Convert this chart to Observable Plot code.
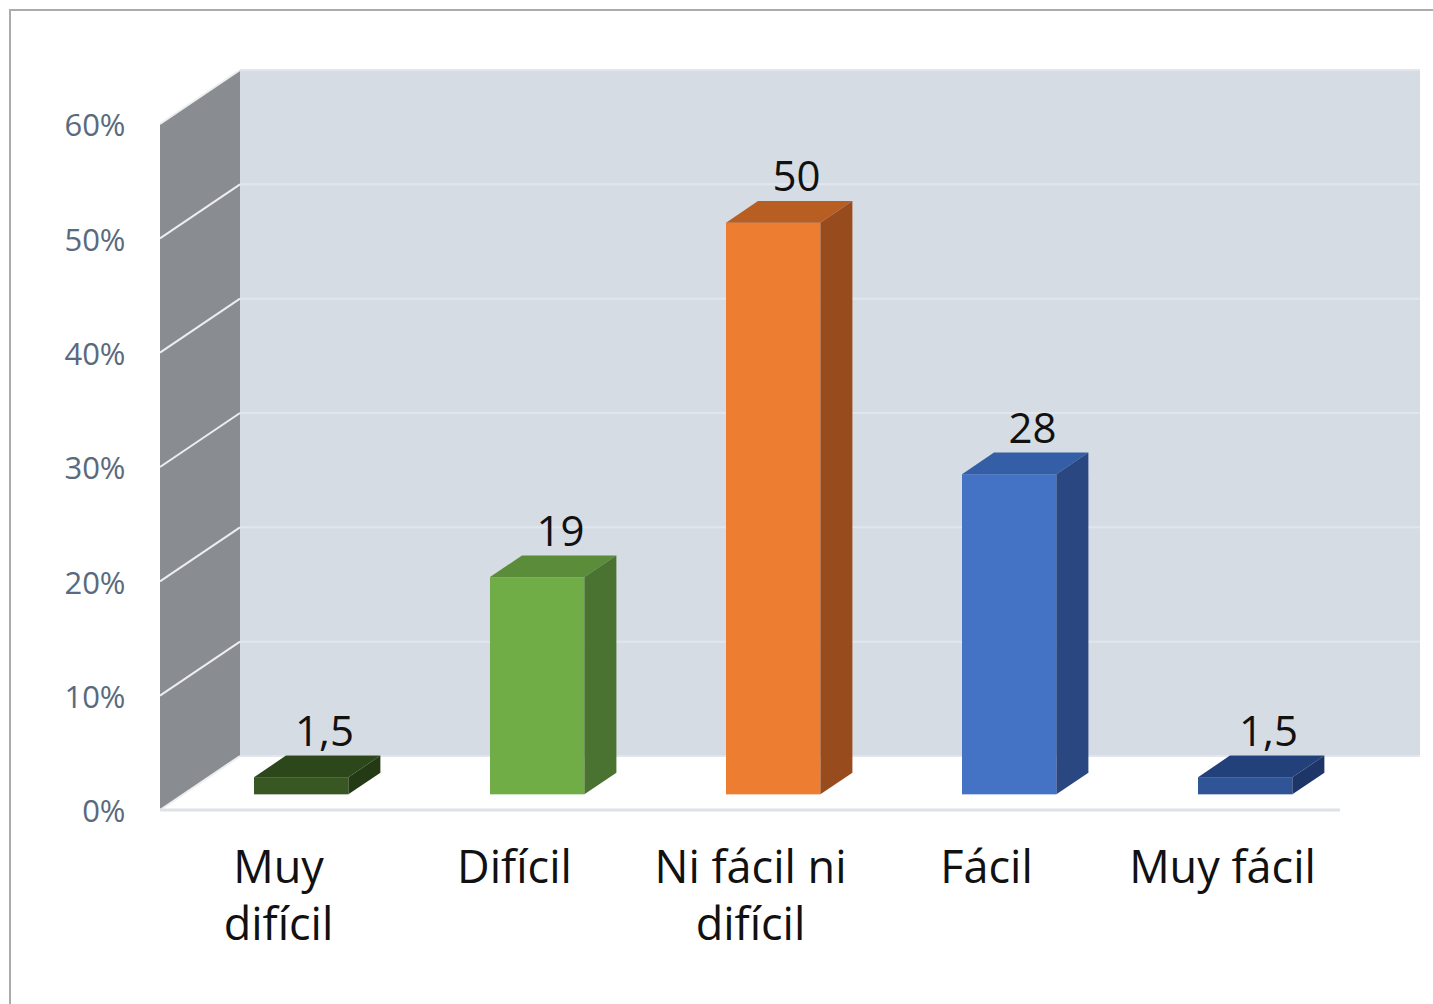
<!DOCTYPE html>
<html><head><meta charset="utf-8">
<script src="https://cdn.jsdelivr.net/npm/d3@7"></script>
<script src="https://cdn.jsdelivr.net/npm/@observablehq/plot@0.6"></script>
<style>
html,body{margin:0;padding:0;background:#fff;overflow:hidden;}
#wrap{position:relative;width:1433px;height:1004px;overflow:hidden;}
#border{position:absolute;left:9px;top:9px;width:1460px;height:1030px;border:2px solid #ababab;box-sizing:border-box;}
#chart{position:absolute;left:0;top:0;}
</style></head><body>
<div id="wrap"><div id="border"></div><div id="chart"></div></div>
<script>
const categories = ["Muy difícil", "Difícil", "Ni fácil ni difícil", "Fácil", "Muy fácil"];
const categoryLabels = ["Muy\ndifícil", "Difícil", "Ni fácil ni\ndifícil", "Fácil", "Muy fácil"];
const values = [1.5, 19, 50, 28, 1.5];
const valueLabels = ["1,5", "19", "50", "28", "1,5"];
const frontColors = ["#385723", "#70ad47", "#ed7d31", "#4472c4", "#2f5597"];
const topColors = ["#2c481b", "#5b8c3a", "#b85e23", "#345ea6", "#22407a"];
const sideColors = ["#233a15", "#4a7230", "#984c1d", "#2a4781", "#1e3667"];
const yTicks = [0, 10, 20, 30, 40, 50, 60];

const data = categories.map((c, i) => ({
  cat: c, label: categoryLabels[i], value: values[i], text: valueLabels[i],
  front: frontColors[i], top: topColors[i], side: sideColors[i]
}));

// oblique depth of the chart box (pixels)
const DX = 80, DY = -54;
const F0 = 0.29, FD = 0.4; // bar front position and bar depth, as fractions of box depth
const BAR_W = 0.4;         // bar width as a fraction of band

function walls(index, scales, values, dims) {
  const {x, y} = scales;
  const X0 = dims.marginLeft, X1 = dims.width - dims.marginRight;
  const y0 = y(0), y60 = y(60);
  const g = d3.create("svg:g");
  g.append("rect").attr("x", X0 + DX).attr("y", y60 + DY)
    .attr("width", X1 - X0).attr("height", y0 - y60).attr("fill", "#d6dce4");
  g.append("path")
    .attr("d", `M${X0},${y0}L${X0},${y60}L${X0 + DX},${y60 + DY}L${X0 + DX},${y0 + DY}Z`)
    .attr("fill", "#898c91");
  for (const t of yTicks) {
    const yt = y(t);
    g.append("line").attr("x1", X0 + DX).attr("x2", X1 + DX)
      .attr("y1", yt + DY).attr("y2", yt + DY)
      .attr("stroke", "#e2e6ec").attr("stroke-width", 2);
    g.append("line").attr("x1", X0).attr("x2", X0 + DX)
      .attr("y1", yt).attr("y2", yt + DY)
      .attr("stroke", "#eceef1").attr("stroke-width", 2);
  }
  g.append("line").attr("x1", X0).attr("x2", X1).attr("y1", y0).attr("y2", y0)
    .attr("stroke", "#dde2e9").attr("stroke-width", 3);
  return g.node();
}

function barSides(index, scales, values, dims) {
  const {x, y} = scales;
  const bw = x.bandwidth();
  const g = d3.create("svg:g");
  const fdx = DX * F0, fdy = DY * F0, bdx = DX * FD, bdy = DY * FD;
  for (const d of data) {
    const cx = x(d.cat) + bw / 2;
    const x1 = cx - bw * BAR_W / 2 + fdx, x2 = cx + bw * BAR_W / 2 + fdx;
    const yt = y(d.value) + fdy, yb = y(0) + fdy;
    g.append("path")
      .attr("d", `M${x1},${yt}L${x2},${yt}L${x2 + bdx},${yt + bdy}L${x1 + bdx},${yt + bdy}Z`)
      .attr("fill", d.top);
    g.append("path")
      .attr("d", `M${x2},${yt}L${x2 + bdx},${yt + bdy}L${x2 + bdx},${yb + bdy}L${x2},${yb}Z`)
      .attr("fill", d.side);
  }
  return g.node();
}

const chart = Plot.plot({
  width: 1433,
  height: 1004,
  marginLeft: 160,
  marginRight: 93,
  marginTop: 124,
  marginBottom: 194,
  style: {fontFamily: "'Open Sans', sans-serif", background: "transparent"},
  x: {domain: categories, padding: 0, axis: null},
  y: {domain: [0, 60], axis: null},
  marks: [
    walls,
    Plot.barY(data, {
      x: "cat", y: "value", fill: "front",
      insetLeft: 236 * (1 - BAR_W) / 2, insetRight: 236 * (1 - BAR_W) / 2,
      dx: DX * F0, dy: DY * F0
    }),
    barSides,
    Plot.axisY({
      ticks: yTicks, tickSize: 0, tickPadding: 35, label: null,
      tickFormat: d => `${d}%`, fontSize: 31, fill: "#5a6a7e", dy: 2
    }),
    Plot.text(data, {
      x: "cat", y: "value", text: "text", dx: 46, dy: -61,
      fontSize: 42, fill: "#111"
    }),
    Plot.text(data, {
      x: "cat", frameAnchor: "bottom", text: "label", lineAnchor: "top",
      dy: 32, fontSize: 45, lineHeight: 1.27, fill: "#111"
    })
  ]
});
document.getElementById("chart").appendChild(chart);
</script>
</body></html>
